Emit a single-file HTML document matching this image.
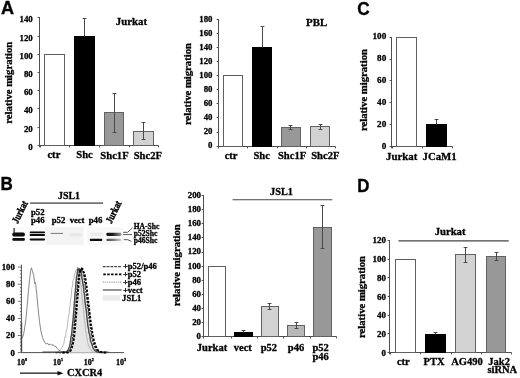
<!DOCTYPE html>
<html><head><meta charset="utf-8"><title>Figure</title>
<style>
html,body{margin:0;padding:0;background:#fff;}
body{width:520px;height:378px;overflow:hidden;font-family:"Liberation Serif",serif;}
svg{display:block;}
</style></head><body>
<svg width="520" height="378" viewBox="0 0 520 378">
<rect width="520" height="378" fill="#fff"/>
<defs><filter id="soft" filterUnits="userSpaceOnUse" x="-5" y="-5" width="530" height="388"><feGaussianBlur stdDeviation="0.38"/></filter></defs>
<g transform="translate(0.5,0.5)" filter="url(#soft)">
<g style="font-family:'Liberation Serif',serif;font-weight:bold;stroke:#000;stroke-width:0.3px">
<line x1="39.00" y1="16.50" x2="39.00" y2="146.80" stroke="#505050" stroke-width="1" />
<line x1="37.10" y1="145.00" x2="39.00" y2="145.00" stroke="#505050" stroke-width="1" />
<text x="32.30" y="149.30" font-size="8.9" text-anchor="end" fill="#000" >0</text>
<line x1="37.10" y1="127.00" x2="39.00" y2="127.00" stroke="#505050" stroke-width="1" />
<text x="32.30" y="131.10" font-size="8.9" text-anchor="end" fill="#000" >20</text>
<line x1="37.10" y1="108.00" x2="39.00" y2="108.00" stroke="#505050" stroke-width="1" />
<text x="32.30" y="112.90" font-size="8.9" text-anchor="end" fill="#000" >40</text>
<line x1="37.10" y1="90.00" x2="39.00" y2="90.00" stroke="#505050" stroke-width="1" />
<text x="32.30" y="94.70" font-size="8.9" text-anchor="end" fill="#000" >60</text>
<line x1="37.10" y1="72.00" x2="39.00" y2="72.00" stroke="#505050" stroke-width="1" />
<text x="32.30" y="76.50" font-size="8.9" text-anchor="end" fill="#000" >80</text>
<line x1="37.10" y1="54.00" x2="39.00" y2="54.00" stroke="#505050" stroke-width="1" />
<text x="32.30" y="58.30" font-size="8.9" text-anchor="end" fill="#000" >100</text>
<line x1="37.10" y1="36.00" x2="39.00" y2="36.00" stroke="#505050" stroke-width="1" />
<text x="32.30" y="40.10" font-size="8.9" text-anchor="end" fill="#000" >120</text>
<line x1="37.10" y1="17.00" x2="39.00" y2="17.00" stroke="#505050" stroke-width="1" />
<text x="32.30" y="21.90" font-size="8.9" text-anchor="end" fill="#000" >140</text>
<line x1="39.00" y1="145.00" x2="158.00" y2="145.00" stroke="#505050" stroke-width="1" />
<line x1="40.00" y1="145.00" x2="40.00" y2="146.90" stroke="#505050" stroke-width="1" />
<line x1="69.00" y1="145.00" x2="69.00" y2="146.90" stroke="#505050" stroke-width="1" />
<line x1="99.00" y1="145.00" x2="99.00" y2="146.90" stroke="#505050" stroke-width="1" />
<line x1="129.00" y1="145.00" x2="129.00" y2="146.90" stroke="#505050" stroke-width="1" />
<line x1="158.00" y1="145.00" x2="158.00" y2="146.90" stroke="#505050" stroke-width="1" />
<rect x="44.00" y="54.00" width="20.00" height="91.00" fill="#fff" stroke="#606060" stroke-width="1"/>
<rect x="74.00" y="36.00" width="20.00" height="109.00" fill="#000" stroke="#000" stroke-width="1"/>
<line x1="84.00" y1="18.00" x2="84.00" y2="36.00" stroke="#484848" stroke-width="1" />
<line x1="82.10" y1="18.00" x2="85.90" y2="18.00" stroke="#484848" stroke-width="1" />
<rect x="104.00" y="112.00" width="19.00" height="33.00" fill="#989898" stroke="#626262" stroke-width="1"/>
<line x1="114.00" y1="93.00" x2="114.00" y2="132.00" stroke="#484848" stroke-width="1" />
<line x1="112.10" y1="93.00" x2="115.90" y2="93.00" stroke="#484848" stroke-width="1" />
<line x1="112.10" y1="132.00" x2="115.90" y2="132.00" stroke="#484848" stroke-width="1" />
<rect x="133.00" y="131.00" width="20.00" height="14.00" fill="#d2d2d2" stroke="#626262" stroke-width="1"/>
<line x1="143.00" y1="122.00" x2="143.00" y2="139.00" stroke="#484848" stroke-width="1" />
<line x1="141.10" y1="122.00" x2="144.90" y2="122.00" stroke="#484848" stroke-width="1" />
<line x1="141.10" y1="139.00" x2="144.90" y2="139.00" stroke="#484848" stroke-width="1" />
<text transform="translate(11.70,82.20) rotate(-90)" font-size="10.7" text-anchor="middle">relative migration</text>
<text x="53.40" y="157.90" font-size="10.6" text-anchor="middle" fill="#000" >ctr</text>
<text x="84.00" y="157.90" font-size="10.6" text-anchor="middle" fill="#000" >Shc</text>
<text x="114.00" y="158.20" font-size="10.6" text-anchor="middle" fill="#000" >Shc1F</text>
<text x="147.30" y="158.20" font-size="10.6" text-anchor="middle" fill="#000" >Shc2F</text>
<text x="130.90" y="24.70" font-size="10.8" text-anchor="middle" fill="#000" >Jurkat</text>
<line x1="218.00" y1="18.50" x2="218.00" y2="147.80" stroke="#505050" stroke-width="1" />
<line x1="216.10" y1="146.00" x2="218.00" y2="146.00" stroke="#505050" stroke-width="1" />
<text x="212.00" y="147.90" font-size="8.8" text-anchor="end" fill="#000" >0</text>
<line x1="216.10" y1="132.00" x2="218.00" y2="132.00" stroke="#505050" stroke-width="1" />
<text x="212.00" y="133.80" font-size="8.8" text-anchor="end" fill="#000" >20</text>
<line x1="216.10" y1="117.00" x2="218.00" y2="117.00" stroke="#505050" stroke-width="1" />
<text x="212.00" y="119.70" font-size="8.8" text-anchor="end" fill="#000" >40</text>
<line x1="216.10" y1="103.00" x2="218.00" y2="103.00" stroke="#505050" stroke-width="1" />
<text x="212.00" y="105.60" font-size="8.8" text-anchor="end" fill="#000" >60</text>
<line x1="216.10" y1="89.00" x2="218.00" y2="89.00" stroke="#505050" stroke-width="1" />
<text x="212.00" y="91.50" font-size="8.8" text-anchor="end" fill="#000" >80</text>
<line x1="216.10" y1="75.00" x2="218.00" y2="75.00" stroke="#505050" stroke-width="1" />
<text x="212.00" y="77.40" font-size="8.8" text-anchor="end" fill="#000" >100</text>
<line x1="216.10" y1="61.00" x2="218.00" y2="61.00" stroke="#505050" stroke-width="1" />
<text x="212.00" y="63.30" font-size="8.8" text-anchor="end" fill="#000" >120</text>
<line x1="216.10" y1="47.00" x2="218.00" y2="47.00" stroke="#505050" stroke-width="1" />
<text x="212.00" y="49.20" font-size="8.8" text-anchor="end" fill="#000" >140</text>
<line x1="216.10" y1="33.00" x2="218.00" y2="33.00" stroke="#505050" stroke-width="1" />
<text x="212.00" y="35.10" font-size="8.8" text-anchor="end" fill="#000" >160</text>
<line x1="216.10" y1="19.00" x2="218.00" y2="19.00" stroke="#505050" stroke-width="1" />
<text x="212.00" y="21.00" font-size="8.8" text-anchor="end" fill="#000" >180</text>
<line x1="218.00" y1="146.00" x2="335.00" y2="146.00" stroke="#505050" stroke-width="1" />
<line x1="218.00" y1="146.00" x2="218.00" y2="147.90" stroke="#505050" stroke-width="1" />
<line x1="247.00" y1="146.00" x2="247.00" y2="147.90" stroke="#505050" stroke-width="1" />
<line x1="277.00" y1="146.00" x2="277.00" y2="147.90" stroke="#505050" stroke-width="1" />
<line x1="306.00" y1="146.00" x2="306.00" y2="147.90" stroke="#505050" stroke-width="1" />
<line x1="335.00" y1="146.00" x2="335.00" y2="147.90" stroke="#505050" stroke-width="1" />
<rect x="223.00" y="75.00" width="19.00" height="71.00" fill="#fff" stroke="#606060" stroke-width="1"/>
<rect x="252.00" y="47.00" width="19.00" height="99.00" fill="#000" stroke="#000" stroke-width="1"/>
<line x1="262.00" y1="26.00" x2="262.00" y2="47.00" stroke="#484848" stroke-width="1" />
<line x1="260.10" y1="26.00" x2="263.90" y2="26.00" stroke="#484848" stroke-width="1" />
<rect x="281.00" y="127.00" width="19.00" height="19.00" fill="#989898" stroke="#626262" stroke-width="1"/>
<line x1="290.00" y1="125.00" x2="290.00" y2="129.00" stroke="#484848" stroke-width="1" />
<line x1="288.10" y1="125.00" x2="291.90" y2="125.00" stroke="#484848" stroke-width="1" />
<line x1="288.10" y1="129.00" x2="291.90" y2="129.00" stroke="#484848" stroke-width="1" />
<rect x="310.00" y="126.00" width="19.00" height="20.00" fill="#d2d2d2" stroke="#626262" stroke-width="1"/>
<line x1="320.00" y1="124.00" x2="320.00" y2="129.00" stroke="#484848" stroke-width="1" />
<line x1="318.10" y1="124.00" x2="321.90" y2="124.00" stroke="#484848" stroke-width="1" />
<line x1="318.10" y1="129.00" x2="321.90" y2="129.00" stroke="#484848" stroke-width="1" />
<text transform="translate(190.30,83.50) rotate(-90)" font-size="10.7" text-anchor="middle">relative migration</text>
<text x="230.60" y="158.80" font-size="10.6" text-anchor="middle" fill="#000" >ctr</text>
<text x="261.20" y="158.80" font-size="10.6" text-anchor="middle" fill="#000" >Shc</text>
<text x="291.60" y="158.80" font-size="10.6" text-anchor="middle" fill="#000" >Shc1F</text>
<text x="324.80" y="158.80" font-size="10.6" text-anchor="middle" fill="#000" >Shc2F</text>
<text x="316.10" y="25.10" font-size="10.9" text-anchor="middle" fill="#000" >PBL</text>
<line x1="391.00" y1="36.50" x2="391.00" y2="147.80" stroke="#505050" stroke-width="1" />
<line x1="389.10" y1="146.00" x2="391.00" y2="146.00" stroke="#505050" stroke-width="1" />
<text x="385.80" y="148.00" font-size="9.2" text-anchor="end" fill="#000" >0</text>
<line x1="389.10" y1="124.00" x2="391.00" y2="124.00" stroke="#505050" stroke-width="1" />
<text x="385.80" y="126.14" font-size="9.2" text-anchor="end" fill="#000" >20</text>
<line x1="389.10" y1="102.00" x2="391.00" y2="102.00" stroke="#505050" stroke-width="1" />
<text x="385.80" y="104.28" font-size="9.2" text-anchor="end" fill="#000" >40</text>
<line x1="389.10" y1="80.00" x2="391.00" y2="80.00" stroke="#505050" stroke-width="1" />
<text x="385.80" y="82.42" font-size="9.2" text-anchor="end" fill="#000" >60</text>
<line x1="389.10" y1="59.00" x2="391.00" y2="59.00" stroke="#505050" stroke-width="1" />
<text x="385.80" y="60.56" font-size="9.2" text-anchor="end" fill="#000" >80</text>
<line x1="389.10" y1="37.00" x2="391.00" y2="37.00" stroke="#505050" stroke-width="1" />
<text x="385.80" y="38.70" font-size="9.2" text-anchor="end" fill="#000" >100</text>
<line x1="391.00" y1="146.00" x2="452.00" y2="146.00" stroke="#505050" stroke-width="1" />
<line x1="392.00" y1="146.00" x2="392.00" y2="147.90" stroke="#505050" stroke-width="1" />
<line x1="422.00" y1="146.00" x2="422.00" y2="147.90" stroke="#505050" stroke-width="1" />
<line x1="452.00" y1="146.00" x2="452.00" y2="147.90" stroke="#505050" stroke-width="1" />
<rect x="396.00" y="37.00" width="20.00" height="109.00" fill="#fff" stroke="#606060" stroke-width="1"/>
<rect x="426.00" y="124.00" width="20.00" height="22.00" fill="#000" stroke="#000" stroke-width="1"/>
<line x1="436.00" y1="119.00" x2="436.00" y2="124.00" stroke="#484848" stroke-width="1" />
<line x1="434.10" y1="119.00" x2="437.90" y2="119.00" stroke="#484848" stroke-width="1" />
<text transform="translate(366.40,89.60) rotate(-90)" font-size="10.7" text-anchor="middle">relative migration</text>
<text x="401.20" y="159.90" font-size="10.8" text-anchor="middle" fill="#000" >Jurkat</text>
<text x="439.10" y="159.90" font-size="10.8" text-anchor="middle" fill="#000" >JCaM1</text>
<line x1="203.00" y1="194.50" x2="203.00" y2="337.80" stroke="#505050" stroke-width="1" />
<line x1="201.10" y1="336.00" x2="203.00" y2="336.00" stroke="#505050" stroke-width="1" />
<text x="200.50" y="338.40" font-size="8.8" text-anchor="end" fill="#000" >0</text>
<line x1="201.10" y1="322.00" x2="203.00" y2="322.00" stroke="#505050" stroke-width="1" />
<text x="200.50" y="324.32" font-size="8.8" text-anchor="end" fill="#000" >20</text>
<line x1="201.10" y1="308.00" x2="203.00" y2="308.00" stroke="#505050" stroke-width="1" />
<text x="200.50" y="310.24" font-size="8.8" text-anchor="end" fill="#000" >40</text>
<line x1="201.10" y1="294.00" x2="203.00" y2="294.00" stroke="#505050" stroke-width="1" />
<text x="200.50" y="296.16" font-size="8.8" text-anchor="end" fill="#000" >60</text>
<line x1="201.10" y1="280.00" x2="203.00" y2="280.00" stroke="#505050" stroke-width="1" />
<text x="200.50" y="282.08" font-size="8.8" text-anchor="end" fill="#000" >80</text>
<line x1="201.10" y1="266.00" x2="203.00" y2="266.00" stroke="#505050" stroke-width="1" />
<text x="200.50" y="268.00" font-size="8.8" text-anchor="end" fill="#000" >100</text>
<line x1="201.10" y1="252.00" x2="203.00" y2="252.00" stroke="#505050" stroke-width="1" />
<text x="200.50" y="253.92" font-size="8.8" text-anchor="end" fill="#000" >120</text>
<line x1="201.10" y1="237.00" x2="203.00" y2="237.00" stroke="#505050" stroke-width="1" />
<text x="200.50" y="239.84" font-size="8.8" text-anchor="end" fill="#000" >140</text>
<line x1="201.10" y1="223.00" x2="203.00" y2="223.00" stroke="#505050" stroke-width="1" />
<text x="200.50" y="225.76" font-size="8.8" text-anchor="end" fill="#000" >160</text>
<line x1="201.10" y1="209.00" x2="203.00" y2="209.00" stroke="#505050" stroke-width="1" />
<text x="200.50" y="211.68" font-size="8.8" text-anchor="end" fill="#000" >180</text>
<line x1="201.10" y1="195.00" x2="203.00" y2="195.00" stroke="#505050" stroke-width="1" />
<text x="200.50" y="197.60" font-size="8.8" text-anchor="end" fill="#000" >200</text>
<line x1="203.00" y1="336.00" x2="336.00" y2="336.00" stroke="#505050" stroke-width="1" />
<line x1="203.00" y1="336.00" x2="203.00" y2="337.90" stroke="#505050" stroke-width="1" />
<line x1="231.00" y1="336.00" x2="231.00" y2="337.90" stroke="#505050" stroke-width="1" />
<line x1="257.00" y1="336.00" x2="257.00" y2="337.90" stroke="#505050" stroke-width="1" />
<line x1="283.00" y1="336.00" x2="283.00" y2="337.90" stroke="#505050" stroke-width="1" />
<line x1="310.00" y1="336.00" x2="310.00" y2="337.90" stroke="#505050" stroke-width="1" />
<line x1="336.00" y1="336.00" x2="336.00" y2="337.90" stroke="#505050" stroke-width="1" />
<rect x="208.00" y="266.00" width="17.00" height="70.00" fill="#fff" stroke="#606060" stroke-width="1"/>
<rect x="234.00" y="332.00" width="18.00" height="4.00" fill="#000" stroke="#000" stroke-width="1"/>
<line x1="243.00" y1="330.00" x2="243.00" y2="332.00" stroke="#484848" stroke-width="1" />
<line x1="241.10" y1="330.00" x2="244.90" y2="330.00" stroke="#484848" stroke-width="1" />
<rect x="261.00" y="306.00" width="17.00" height="30.00" fill="#d2d2d2" stroke="#626262" stroke-width="1"/>
<line x1="269.00" y1="303.00" x2="269.00" y2="309.00" stroke="#484848" stroke-width="1" />
<line x1="267.10" y1="303.00" x2="270.90" y2="303.00" stroke="#484848" stroke-width="1" />
<line x1="267.10" y1="309.00" x2="270.90" y2="309.00" stroke="#484848" stroke-width="1" />
<rect x="287.00" y="325.00" width="17.00" height="11.00" fill="#b8b8b8" stroke="#626262" stroke-width="1"/>
<line x1="296.00" y1="322.00" x2="296.00" y2="328.00" stroke="#484848" stroke-width="1" />
<line x1="294.10" y1="322.00" x2="297.90" y2="322.00" stroke="#484848" stroke-width="1" />
<line x1="294.10" y1="328.00" x2="297.90" y2="328.00" stroke="#484848" stroke-width="1" />
<rect x="313.00" y="227.00" width="18.00" height="109.00" fill="#989898" stroke="#626262" stroke-width="1"/>
<line x1="322.00" y1="205.00" x2="322.00" y2="248.00" stroke="#484848" stroke-width="1" />
<line x1="320.10" y1="205.00" x2="323.90" y2="205.00" stroke="#484848" stroke-width="1" />
<line x1="320.10" y1="248.00" x2="323.90" y2="248.00" stroke="#484848" stroke-width="1" />
<text transform="translate(179.00,264.70) rotate(-90)" font-size="10.7" text-anchor="middle">relative migration</text>
<text x="211.50" y="350.70" font-size="10.5" text-anchor="middle" fill="#000" >Jurkat</text>
<text x="242.30" y="350.70" font-size="10.5" text-anchor="middle" fill="#000" >vect</text>
<text x="268.40" y="350.70" font-size="10.5" text-anchor="middle" fill="#000" >p52</text>
<text x="295.50" y="350.70" font-size="10.5" text-anchor="middle" fill="#000" >p46</text>
<text x="320.10" y="350.70" font-size="10.5" text-anchor="middle" fill="#000" >p52</text>
<text x="320.10" y="359.00" font-size="10.5" text-anchor="middle" fill="#000" >p46</text>
<text x="281.00" y="194.10" font-size="10.3" text-anchor="middle" fill="#000" >JSL1</text>
<line x1="232.10" y1="199.20" x2="331.80" y2="199.20" stroke="#454545" stroke-width="1.1" />
<line x1="389.00" y1="239.50" x2="389.00" y2="353.80" stroke="#505050" stroke-width="1" />
<line x1="387.10" y1="352.00" x2="389.00" y2="352.00" stroke="#505050" stroke-width="1" />
<text x="385.50" y="355.10" font-size="9.0" text-anchor="end" fill="#000" >0</text>
<line x1="387.10" y1="333.00" x2="389.00" y2="333.00" stroke="#505050" stroke-width="1" />
<text x="385.50" y="336.40" font-size="9.0" text-anchor="end" fill="#000" >20</text>
<line x1="387.10" y1="315.00" x2="389.00" y2="315.00" stroke="#505050" stroke-width="1" />
<text x="385.50" y="317.70" font-size="9.0" text-anchor="end" fill="#000" >40</text>
<line x1="387.10" y1="296.00" x2="389.00" y2="296.00" stroke="#505050" stroke-width="1" />
<text x="385.50" y="299.00" font-size="9.0" text-anchor="end" fill="#000" >60</text>
<line x1="387.10" y1="277.00" x2="389.00" y2="277.00" stroke="#505050" stroke-width="1" />
<text x="385.50" y="280.30" font-size="9.0" text-anchor="end" fill="#000" >80</text>
<line x1="387.10" y1="259.00" x2="389.00" y2="259.00" stroke="#505050" stroke-width="1" />
<text x="385.50" y="261.60" font-size="9.0" text-anchor="end" fill="#000" >100</text>
<line x1="387.10" y1="240.00" x2="389.00" y2="240.00" stroke="#505050" stroke-width="1" />
<text x="385.50" y="242.90" font-size="9.0" text-anchor="end" fill="#000" >120</text>
<line x1="389.00" y1="352.00" x2="511.00" y2="352.00" stroke="#505050" stroke-width="1" />
<line x1="390.00" y1="352.00" x2="390.00" y2="353.90" stroke="#505050" stroke-width="1" />
<line x1="420.00" y1="352.00" x2="420.00" y2="353.90" stroke="#505050" stroke-width="1" />
<line x1="451.00" y1="352.00" x2="451.00" y2="353.90" stroke="#505050" stroke-width="1" />
<line x1="481.00" y1="352.00" x2="481.00" y2="353.90" stroke="#505050" stroke-width="1" />
<line x1="511.00" y1="352.00" x2="511.00" y2="353.90" stroke="#505050" stroke-width="1" />
<rect x="395.00" y="259.00" width="20.00" height="93.00" fill="#fff" stroke="#606060" stroke-width="1"/>
<rect x="425.00" y="334.00" width="20.00" height="18.00" fill="#000" stroke="#000" stroke-width="1"/>
<line x1="435.00" y1="332.00" x2="435.00" y2="334.00" stroke="#484848" stroke-width="1" />
<line x1="433.10" y1="332.00" x2="436.90" y2="332.00" stroke="#484848" stroke-width="1" />
<rect x="455.00" y="254.00" width="20.00" height="98.00" fill="#d2d2d2" stroke="#626262" stroke-width="1"/>
<line x1="465.00" y1="247.00" x2="465.00" y2="262.00" stroke="#484848" stroke-width="1" />
<line x1="463.10" y1="247.00" x2="466.90" y2="247.00" stroke="#484848" stroke-width="1" />
<line x1="463.10" y1="262.00" x2="466.90" y2="262.00" stroke="#484848" stroke-width="1" />
<rect x="486.00" y="256.00" width="19.00" height="96.00" fill="#989898" stroke="#626262" stroke-width="1"/>
<line x1="496.00" y1="252.00" x2="496.00" y2="260.00" stroke="#484848" stroke-width="1" />
<line x1="494.10" y1="252.00" x2="497.90" y2="252.00" stroke="#484848" stroke-width="1" />
<line x1="494.10" y1="260.00" x2="497.90" y2="260.00" stroke="#484848" stroke-width="1" />
<text transform="translate(364.20,296.50) rotate(-90)" font-size="10.7" text-anchor="middle">relative migration</text>
<text x="402.80" y="364.40" font-size="10.5" text-anchor="middle" fill="#000" >ctr</text>
<text x="433.60" y="364.40" font-size="10.5" text-anchor="middle" fill="#000" >PTX</text>
<text x="466.40" y="364.40" font-size="10.5" text-anchor="middle" fill="#000" >AG490</text>
<text x="498.60" y="364.40" font-size="10.5" text-anchor="middle" fill="#000" >Jak2</text>
<text x="501.80" y="372.40" font-size="10.5" text-anchor="middle" fill="#000" >siRNA</text>
<text x="449.60" y="234.70" font-size="10.7" text-anchor="middle" fill="#000" >Jurkat</text>
<line x1="398.00" y1="240.40" x2="508.20" y2="240.40" stroke="#454545" stroke-width="1.1" />
</g>
<g style="font-family:'Liberation Sans',sans-serif;font-weight:bold;font-size:18.3px;stroke:#000;stroke-width:0.35px">
<text transform="translate(0.5,13.8) scale(0.99,0.965)">A</text>
<text transform="translate(0.0,189.1) scale(0.93,1)">B</text>
<text transform="translate(356.7,14.7) scale(0.94,1)">C</text>
<text transform="translate(356.8,191.0) scale(0.92,0.96)">D</text>
</g>
<g style="font-family:'Liberation Serif',serif;font-weight:bold;stroke:#000;stroke-width:0.3px">
<text x="68.50" y="198.60" font-size="9.9" text-anchor="middle" fill="#000" >JSL1</text>
<line x1="29.60" y1="202.60" x2="102.60" y2="202.60" stroke="#747474" stroke-width="1.6" />
<text transform="translate(17.2,223.4) rotate(-63.5) scale(0.88,1.12)" font-size="9.2" stroke-width="0.4">Jurkat</text>
<text transform="translate(110.9,223.4) rotate(-63.5) scale(0.88,1.12)" font-size="9.2" stroke-width="0.4">Jurkat</text>
<text x="30.40" y="214.00" font-size="8.8" text-anchor="start" fill="#000" >p52</text>
<text x="30.40" y="222.40" font-size="8.8" text-anchor="start" fill="#000" >p46</text>
<text x="51.20" y="222.60" font-size="8.8" text-anchor="start" fill="#000" >p52</text>
<text x="69.20" y="222.60" font-size="8.6" text-anchor="start" fill="#000" >vect</text>
<text x="88.20" y="222.60" font-size="8.8" text-anchor="start" fill="#000" >p46</text>
<text x="133.20" y="228.40" font-size="7.6" text-anchor="start" fill="#000" >HA-Shc</text>
<text x="133.20" y="235.70" font-size="7.6" text-anchor="start" fill="#000" >p52Shc</text>
<text x="133.20" y="242.50" font-size="7.6" text-anchor="start" fill="#000" >p46Shc</text>
</g>
<defs><filter id="bl" x="-20%" y="-50%" width="140%" height="200%"><feGaussianBlur stdDeviation="0.5"/></filter><filter id="bl2" x="-20%" y="-100%" width="140%" height="300%"><feGaussianBlur stdDeviation="0.9"/></filter><linearGradient id="fade" x1="0" x2="1" y1="0" y2="0"><stop offset="0" stop-color="#0c0c0c"/><stop offset="0.4" stop-color="#1c1c1c"/><stop offset="1" stop-color="#999"/></linearGradient><linearGradient id="fade2" x1="0" x2="1" y1="0" y2="0"><stop offset="0" stop-color="#444"/><stop offset="0.45" stop-color="#777"/><stop offset="1" stop-color="#d0d0d0"/></linearGradient></defs>
<rect x="10.5" y="226.5" width="35" height="18" fill="#fafafa"/>
<rect x="45.2" y="226.5" width="38" height="18" fill="#f4f4f4"/>
<rect x="86.6" y="226.5" width="36" height="18" fill="#f8f8f8"/>
<g filter="url(#bl)">
<rect x="11.8" y="231.9" width="12.6" height="4.0" rx="1.6" fill="#080808"/>
<rect x="13.0" y="227.6" width="1.3" height="5.5" fill="#2a2a2a"/>
<rect x="11.8" y="237.6" width="12.6" height="2.6" rx="1.2" fill="#080808"/>
<rect x="29.2" y="230.9" width="15.3" height="1.9" rx="0.8" fill="#0a0a0a"/>
<rect x="29.2" y="233.5" width="15.3" height="2.0" rx="0.8" fill="#0a0a0a"/>
<rect x="29.2" y="238.0" width="15.3" height="1.9" rx="0.8" fill="#0a0a0a"/>
<rect x="50.2" y="232.4" width="12.4" height="1.0" fill="#777"/>
<rect x="89.2" y="238.3" width="12.6" height="2.2" rx="1" fill="#111"/>
<rect x="105.8" y="232.3" width="15.2" height="3.1" rx="1.4" fill="url(#fade)"/>
<rect x="106.0" y="238.3" width="14.8" height="2.1" rx="1" fill="url(#fade2)"/>
</g>
<g filter="url(#bl2)">
<rect x="68.5" y="233.6" width="12.5" height="1.4" fill="#d4d4d4"/>
<rect x="90" y="233.2" width="12" height="1.3" fill="#d0d0d0"/>
</g>
<polyline points="122.6,231.8 127.2,231.8 132.0,227.2" fill="none" stroke="#333" stroke-width="0.8"/>
<polyline points="122.6,234.1 131.6,234.1" fill="none" stroke="#333" stroke-width="0.8"/>
<polyline points="123.2,239.2 127.2,239.2 130.8,240.9" fill="none" stroke="#333" stroke-width="0.8"/>
<line x1="20.90" y1="264.00" x2="20.90" y2="352.10" stroke="#3c3c3c" stroke-width="0.9" />
<line x1="20.90" y1="352.10" x2="123.50" y2="352.10" stroke="#3c3c3c" stroke-width="0.9" />
<line x1="17.30" y1="352.10" x2="20.90" y2="352.10" stroke="#3c3c3c" stroke-width="0.7" />
<line x1="19.40" y1="348.68" x2="20.90" y2="348.68" stroke="#3c3c3c" stroke-width="0.7" />
<line x1="19.40" y1="345.26" x2="20.90" y2="345.26" stroke="#3c3c3c" stroke-width="0.7" />
<line x1="19.40" y1="341.84" x2="20.90" y2="341.84" stroke="#3c3c3c" stroke-width="0.7" />
<line x1="19.40" y1="338.42" x2="20.90" y2="338.42" stroke="#3c3c3c" stroke-width="0.7" />
<line x1="17.30" y1="335.00" x2="20.90" y2="335.00" stroke="#3c3c3c" stroke-width="0.7" />
<line x1="19.40" y1="331.58" x2="20.90" y2="331.58" stroke="#3c3c3c" stroke-width="0.7" />
<line x1="19.40" y1="328.16" x2="20.90" y2="328.16" stroke="#3c3c3c" stroke-width="0.7" />
<line x1="19.40" y1="324.74" x2="20.90" y2="324.74" stroke="#3c3c3c" stroke-width="0.7" />
<line x1="19.40" y1="321.32" x2="20.90" y2="321.32" stroke="#3c3c3c" stroke-width="0.7" />
<line x1="17.30" y1="317.90" x2="20.90" y2="317.90" stroke="#3c3c3c" stroke-width="0.7" />
<line x1="19.40" y1="314.48" x2="20.90" y2="314.48" stroke="#3c3c3c" stroke-width="0.7" />
<line x1="19.40" y1="311.06" x2="20.90" y2="311.06" stroke="#3c3c3c" stroke-width="0.7" />
<line x1="19.40" y1="307.64" x2="20.90" y2="307.64" stroke="#3c3c3c" stroke-width="0.7" />
<line x1="19.40" y1="304.22" x2="20.90" y2="304.22" stroke="#3c3c3c" stroke-width="0.7" />
<line x1="17.30" y1="300.80" x2="20.90" y2="300.80" stroke="#3c3c3c" stroke-width="0.7" />
<line x1="19.40" y1="297.38" x2="20.90" y2="297.38" stroke="#3c3c3c" stroke-width="0.7" />
<line x1="19.40" y1="293.96" x2="20.90" y2="293.96" stroke="#3c3c3c" stroke-width="0.7" />
<line x1="19.40" y1="290.54" x2="20.90" y2="290.54" stroke="#3c3c3c" stroke-width="0.7" />
<line x1="19.40" y1="287.12" x2="20.90" y2="287.12" stroke="#3c3c3c" stroke-width="0.7" />
<line x1="17.30" y1="283.70" x2="20.90" y2="283.70" stroke="#3c3c3c" stroke-width="0.7" />
<line x1="19.40" y1="280.28" x2="20.90" y2="280.28" stroke="#3c3c3c" stroke-width="0.7" />
<line x1="19.40" y1="276.86" x2="20.90" y2="276.86" stroke="#3c3c3c" stroke-width="0.7" />
<line x1="19.40" y1="273.44" x2="20.90" y2="273.44" stroke="#3c3c3c" stroke-width="0.7" />
<line x1="19.40" y1="270.02" x2="20.90" y2="270.02" stroke="#3c3c3c" stroke-width="0.7" />
<line x1="17.30" y1="266.60" x2="20.90" y2="266.60" stroke="#3c3c3c" stroke-width="0.7" />
<g style="font-family:'Liberation Serif',serif;font-weight:bold;stroke:#000;stroke-width:0.3px">
<text x="14.30" y="355.00" font-size="8.7" text-anchor="end" fill="#000" >0</text>
<text x="14.30" y="337.90" font-size="8.7" text-anchor="end" fill="#000" >20</text>
<text x="14.30" y="320.80" font-size="8.7" text-anchor="end" fill="#000" >40</text>
<text x="14.30" y="303.70" font-size="8.7" text-anchor="end" fill="#000" >60</text>
<text x="14.30" y="286.60" font-size="8.7" text-anchor="end" fill="#000" >80</text>
<text x="14.30" y="269.50" font-size="8.7" text-anchor="end" fill="#000" >100</text>
<text x="16.40" y="364.2" font-size="8">10<tspan font-size="4.2" dy="-3.4">0</tspan></text>
<text x="52.60" y="364.2" font-size="8">10<tspan font-size="4.2" dy="-3.4">1</tspan></text>
<text x="83.30" y="364.2" font-size="8">10<tspan font-size="4.2" dy="-3.4">2</tspan></text>
<text x="115.60" y="364.2" font-size="8">10<tspan font-size="4.2" dy="-3.4">3</tspan></text>
<text x="66.60" y="375.30" font-size="10.4" text-anchor="start" fill="#000" >CXCR4</text>
</g>
<line x1="19.50" y1="372.70" x2="59.00" y2="372.70" stroke="#111" stroke-width="1.25" />
<path d="M63.0,372.7 L57.0,370.4 L57.0,375.0 Z" fill="#111"/>
<path d="M62.00,352.10 L62.00,352.10 L62.50,352.09 L63.00,352.09 L63.50,352.08 L64.00,352.07 L64.50,352.04 L65.00,352.00 L65.50,351.93 L66.00,351.83 L66.50,351.68 L67.00,351.44 L67.50,351.10 L68.00,350.66 L68.50,349.88 L69.00,348.99 L69.50,347.54 L70.00,345.77 L70.50,344.20 L71.00,341.66 L71.50,336.63 L72.00,333.84 L72.50,329.03 L73.00,321.52 L73.50,316.70 L74.00,309.11 L74.50,303.10 L75.00,295.70 L75.50,290.20 L76.00,282.73 L76.50,276.74 L77.00,273.34 L77.50,269.85 L78.00,268.60 L78.50,270.03 L79.00,268.25 L79.50,268.69 L80.00,269.91 L80.50,271.76 L81.00,271.42 L81.50,274.83 L82.00,277.14 L82.50,280.16 L83.00,284.40 L83.50,288.01 L84.00,293.73 L84.50,297.21 L85.00,302.70 L85.50,306.01 L86.00,310.63 L86.50,316.97 L87.00,321.01 L87.50,324.70 L88.00,326.41 L88.50,331.10 L89.00,333.64 L89.50,337.15 L90.00,339.10 L90.50,341.43 L91.00,343.30 L91.50,344.61 L92.00,345.99 L92.50,346.93 L93.00,348.08 L93.50,348.79 L94.00,349.51 L94.50,350.04 L95.00,350.57 L95.50,350.95 L96.00,351.23 L96.50,351.44 L97.00,351.60 L97.50,351.73 L98.00,351.83 L98.50,351.90 L99.00,351.95 L99.50,352.00 L100.00,352.03 L100.50,352.05 L101.00,352.06 L101.50,352.07 L102.00,352.08 L102.50,352.09 L103.00,352.09 L103.50,352.09 L104.00,352.10 L104.00,352.10 Z" fill="#e6e6e6" stroke="#c4c4c4" stroke-width="0.6"/>
<path d="M50.00,352.09 L50.50,352.08 L51.00,352.08 L51.50,352.07 L52.00,352.06 L52.50,352.04 L53.00,352.02 L53.50,351.99 L54.00,351.96 L54.50,351.91 L55.00,351.85 L55.50,351.77 L56.00,351.67 L56.50,351.54 L57.00,351.38 L57.50,351.18 L58.00,350.93 L58.50,350.72 L59.00,350.11 L59.50,349.58 L60.00,349.01 L60.50,348.54 L61.00,347.63 L61.50,347.20 L62.00,345.42 L62.50,344.49 L63.00,343.56 L63.50,342.47 L64.00,338.83 L64.50,336.23 L65.00,336.73 L65.50,331.78 L66.00,330.34 L66.50,328.21 L67.00,324.47 L67.50,319.39 L68.00,315.39 L68.50,314.41 L69.00,308.53 L69.50,306.45 L70.00,300.08 L70.50,297.35 L71.00,291.48 L71.50,287.28 L72.00,285.23 L72.50,280.11 L73.00,279.33 L73.50,277.36 L74.00,273.21 L74.50,273.24 L75.00,271.24 L75.50,269.61 L76.00,268.54 L76.50,270.08 L77.00,270.47 L77.50,267.92 L78.00,270.88 L78.50,270.54 L79.00,273.35 L79.50,278.38 L80.00,281.92 L80.50,286.01 L81.00,290.24 L81.50,295.29 L82.00,300.43 L82.50,305.26 L83.00,309.12 L83.50,315.41 L84.00,320.23 L84.50,323.52 L85.00,329.12 L85.50,332.49 L86.00,333.41 L86.50,337.83 L87.00,340.27 L87.50,343.47 L88.00,344.50 L88.50,345.82 L89.00,347.67 L89.50,348.17 L90.00,349.04 L90.50,350.01 L91.00,350.31 L91.50,350.79 L92.00,351.12 L92.50,351.38 L93.00,351.57 L93.50,351.72 L94.00,351.83 L94.50,351.90 L95.00,351.96 L95.50,352.00 L96.00,352.03 L96.50,352.06 L97.00,352.07 L97.50,352.08 L98.00,352.09 L98.50,352.09 L99.00,352.09 L99.50,352.10 L100.00,352.10" fill="none" stroke="#b0b0b0" stroke-width="0.9"/>
<path d="M21.20,338.00 L22.20,336.50 L23.20,333.00 L24.40,326.00 L25.60,317.00 L26.80,304.00 L28.00,290.00 L29.20,278.00 L30.20,270.50 L30.90,267.30 L31.80,270.00 L33.20,275.00 L34.20,283.00 L35.00,282.00 L36.20,293.00 L37.60,308.00 L39.00,321.00 L40.40,330.50 L42.00,337.00 L44.00,341.50 L45.60,343.60 L47.00,342.60 L48.40,344.60 L49.80,343.40 L51.20,344.80 L52.60,344.00 L54.00,346.00 L55.40,345.80 L56.80,348.20 L58.50,349.80 L61.00,351.00 L66.00,351.80" fill="none" stroke="#707070" stroke-width="0.85"/>
<rect x="20.3" y="322" width="1.4" height="30" fill="#444"/>
<path d="M42.00,351.59 L42.50,351.59 L43.00,351.59 L43.50,351.59 L44.00,351.59 L44.50,351.59 L45.00,351.59 L45.50,351.59 L46.00,351.59 L46.50,351.59 L47.00,351.59 L47.50,351.59 L48.00,351.59 L48.50,351.59 L49.00,351.59 L49.50,351.59 L50.00,351.59 L50.50,351.59 L51.00,351.59 L51.50,351.59 L52.00,351.59 L52.50,351.59 L53.00,351.59 L53.50,351.59 L54.00,351.59 L54.50,351.59 L55.00,351.59 L55.50,351.59 L56.00,351.59 L56.50,351.59 L57.00,351.59 L57.50,351.59 L58.00,351.59 L58.50,351.59 L59.00,351.59 L59.50,351.59 L60.00,351.59 L60.50,351.59 L61.00,351.59 L61.50,351.59 L62.00,351.59 L62.50,351.59 L63.00,351.59 L63.50,351.59 L64.00,351.59 L64.50,351.59 L65.00,351.59 L65.50,351.52 L66.00,351.24 L66.50,350.85 L67.00,350.24 L67.50,349.63 L68.00,348.41 L68.50,347.02 L69.00,346.20 L69.50,344.22 L70.00,340.44 L70.50,336.33 L71.00,334.76 L71.50,329.68 L72.00,324.25 L72.50,319.67 L73.00,313.56 L73.50,307.44 L74.00,300.80 L74.50,293.62 L75.00,288.49 L75.50,282.61 L76.00,276.38 L76.50,275.02 L77.00,270.40 L77.50,268.35 L78.00,269.56 L78.50,269.86 L79.00,267.87 L79.50,270.12 L80.00,271.25 L80.50,271.96 L81.00,273.20 L81.50,277.90 L82.00,280.28 L82.50,283.77 L83.00,285.92 L83.50,291.39 L84.00,294.26 L84.50,301.00 L85.00,304.85 L85.50,308.17 L86.00,311.65 L86.50,317.26 L87.00,321.97 L87.50,326.03 L88.00,328.08 L88.50,332.41 L89.00,333.20 L89.50,335.82 L90.00,339.99 L90.50,341.71 L91.00,342.47 L91.50,344.37 L92.00,345.55 L92.50,347.22 L93.00,348.33 L93.50,348.96 L94.00,349.34 L94.50,350.13 L95.00,350.53 L95.50,350.84 L96.00,351.13 L96.50,351.35 L97.00,351.53 L97.50,351.59 L98.00,351.59 L98.50,351.59 L99.00,351.59 L99.50,351.59 L100.00,351.59 L100.50,351.59 L101.00,351.59 L101.50,351.59 L102.00,351.59 L102.50,351.59 L103.00,351.59 L103.50,351.59 L104.00,351.59 L104.50,351.59 L105.00,351.59 L105.50,351.59 L106.00,351.59 L106.50,351.59 L107.00,351.59 L107.50,351.59 L108.00,351.59" fill="none" stroke="#484848" stroke-width="1.4"/>
<path d="M55.00,352.10 L55.50,352.10 L56.00,352.10 L56.50,352.10 L57.00,352.10 L57.50,352.10 L58.00,352.10 L58.50,352.10 L59.00,352.10 L59.50,352.10 L60.00,352.10 L60.50,352.10 L61.00,352.10 L61.50,352.10 L62.00,352.10 L62.50,352.09 L63.00,352.09 L63.50,352.08 L64.00,352.07 L64.50,352.05 L65.00,352.02 L65.50,351.97 L66.00,351.89 L66.50,351.78 L67.00,351.61 L67.50,351.37 L68.00,351.02 L68.50,350.56 L69.00,349.91 L69.50,349.03 L70.00,347.55 L70.50,346.60 L71.00,344.94 L71.50,341.28 L72.00,338.26 L72.50,334.27 L73.00,331.52 L73.50,325.47 L74.00,320.23 L74.50,316.24 L75.00,308.72 L75.50,302.07 L76.00,296.07 L76.50,290.17 L77.00,284.90 L77.50,279.57 L78.00,275.54 L78.50,272.71 L79.00,269.36 L79.50,269.45 L80.00,268.11 L80.50,270.08 L81.00,267.89 L81.50,268.87 L82.00,269.36 L82.50,271.11 L83.00,273.34 L83.50,276.93 L84.00,281.59 L84.50,283.32 L85.00,288.71 L85.50,292.54 L86.00,295.93 L86.50,300.69 L87.00,305.40 L87.50,308.42 L88.00,313.52 L88.50,318.31 L89.00,322.43 L89.50,324.52 L90.00,328.90 L90.50,331.23 L91.00,335.17 L91.50,338.01 L92.00,339.54 L92.50,341.11 L93.00,343.79 L93.50,344.56 L94.00,345.79 L94.50,347.05 L95.00,348.01 L95.50,349.20 L96.00,349.56 L96.50,350.03 L97.00,350.66 L97.50,350.90 L98.00,351.18 L98.50,351.39 L99.00,351.56 L99.50,351.69 L100.00,351.80 L100.50,351.87 L101.00,351.93 L101.50,351.98 L102.00,352.01 L102.50,352.04 L103.00,352.05 L103.50,352.07 L104.00,352.08 L104.50,352.08 L105.00,352.09 L105.50,352.09 L106.00,352.09" fill="none" stroke="#333" stroke-width="1.2" stroke-dasharray="2.2,1.1"/>
<path d="M62.00,352.10 L62.50,352.10 L63.00,352.10 L63.50,352.10 L64.00,352.09 L64.50,352.09 L65.00,352.08 L65.50,352.06 L66.00,352.04 L66.50,352.00 L67.00,351.93 L67.50,351.84 L68.00,351.69 L68.50,351.48 L69.00,351.18 L69.50,350.78 L70.00,350.19 L70.50,349.30 L71.00,348.23 L71.50,346.76 L72.00,344.63 L72.50,343.09 L73.00,340.28 L73.50,336.82 L74.00,332.73 L74.50,328.06 L75.00,320.82 L75.50,315.15 L76.00,310.39 L76.50,302.96 L77.00,296.73 L77.50,290.31 L78.00,284.26 L78.50,278.38 L79.00,274.19 L79.50,271.49 L80.00,270.00 L80.50,269.26 L81.00,269.68 L81.50,268.79 L82.00,268.47 L82.50,269.46 L83.00,271.00 L83.50,272.30 L84.00,273.97 L84.50,276.07 L85.00,278.74 L85.50,283.00 L86.00,285.90 L86.50,290.28 L87.00,294.87 L87.50,299.30 L88.00,303.39 L88.50,307.29 L89.00,312.10 L89.50,315.65 L90.00,320.05 L90.50,324.20 L91.00,327.07 L91.50,329.95 L92.00,334.16 L92.50,336.09 L93.00,338.45 L93.50,339.92 L94.00,341.80 L94.50,344.07 L95.00,345.03 L95.50,346.36 L96.00,347.71 L96.50,348.46 L97.00,349.30 L97.50,349.67 L98.00,350.21 L98.50,350.58 L99.00,350.97 L99.50,351.22 L100.00,351.43 L100.50,351.59 L101.00,351.71 L101.50,351.81 L102.00,351.88 L102.50,351.94 L103.00,351.98 L103.50,352.01 L104.00,352.04 L104.50,352.06 L105.00,352.07 L105.50,352.08 L106.00,352.08" fill="none" stroke="#000" stroke-width="2.0" stroke-dasharray="2.4,1.4"/>
<line x1="102.40" y1="266.10" x2="121.20" y2="266.10" stroke="#444" stroke-width="1.2" stroke-dasharray="2.8,1.0"/>
<line x1="102.80" y1="273.90" x2="121.40" y2="273.90" stroke="#000" stroke-width="1.8" stroke-dasharray="2.5,1.4"/>
<line x1="102.40" y1="281.70" x2="121.20" y2="281.70" stroke="#a4a4a4" stroke-width="1.3" stroke-dasharray="1.1,0.8"/>
<line x1="102.40" y1="289.50" x2="121.20" y2="289.50" stroke="#4c4c4c" stroke-width="1.2" />
<rect x="102.3" y="294.7" width="17.6" height="5.5" fill="#ebebeb"/>
<g style="font-family:'Liberation Serif',serif;font-weight:bold;stroke:#000;stroke-width:0.3px">
<text x="122.40" y="268.90" font-size="8.6" text-anchor="start" fill="#000" >+p52/p46</text>
<text x="122.40" y="276.70" font-size="8.6" text-anchor="start" fill="#000" >+p52</text>
<text x="122.40" y="284.50" font-size="8.6" text-anchor="start" fill="#000" >+p46</text>
<text x="122.40" y="292.30" font-size="8.6" text-anchor="start" fill="#000" >+vect</text>
<text x="121.60" y="300.20" font-size="8.6" text-anchor="start" fill="#000" >JSL1</text>
</g>
</g>
</svg>
</body></html>
